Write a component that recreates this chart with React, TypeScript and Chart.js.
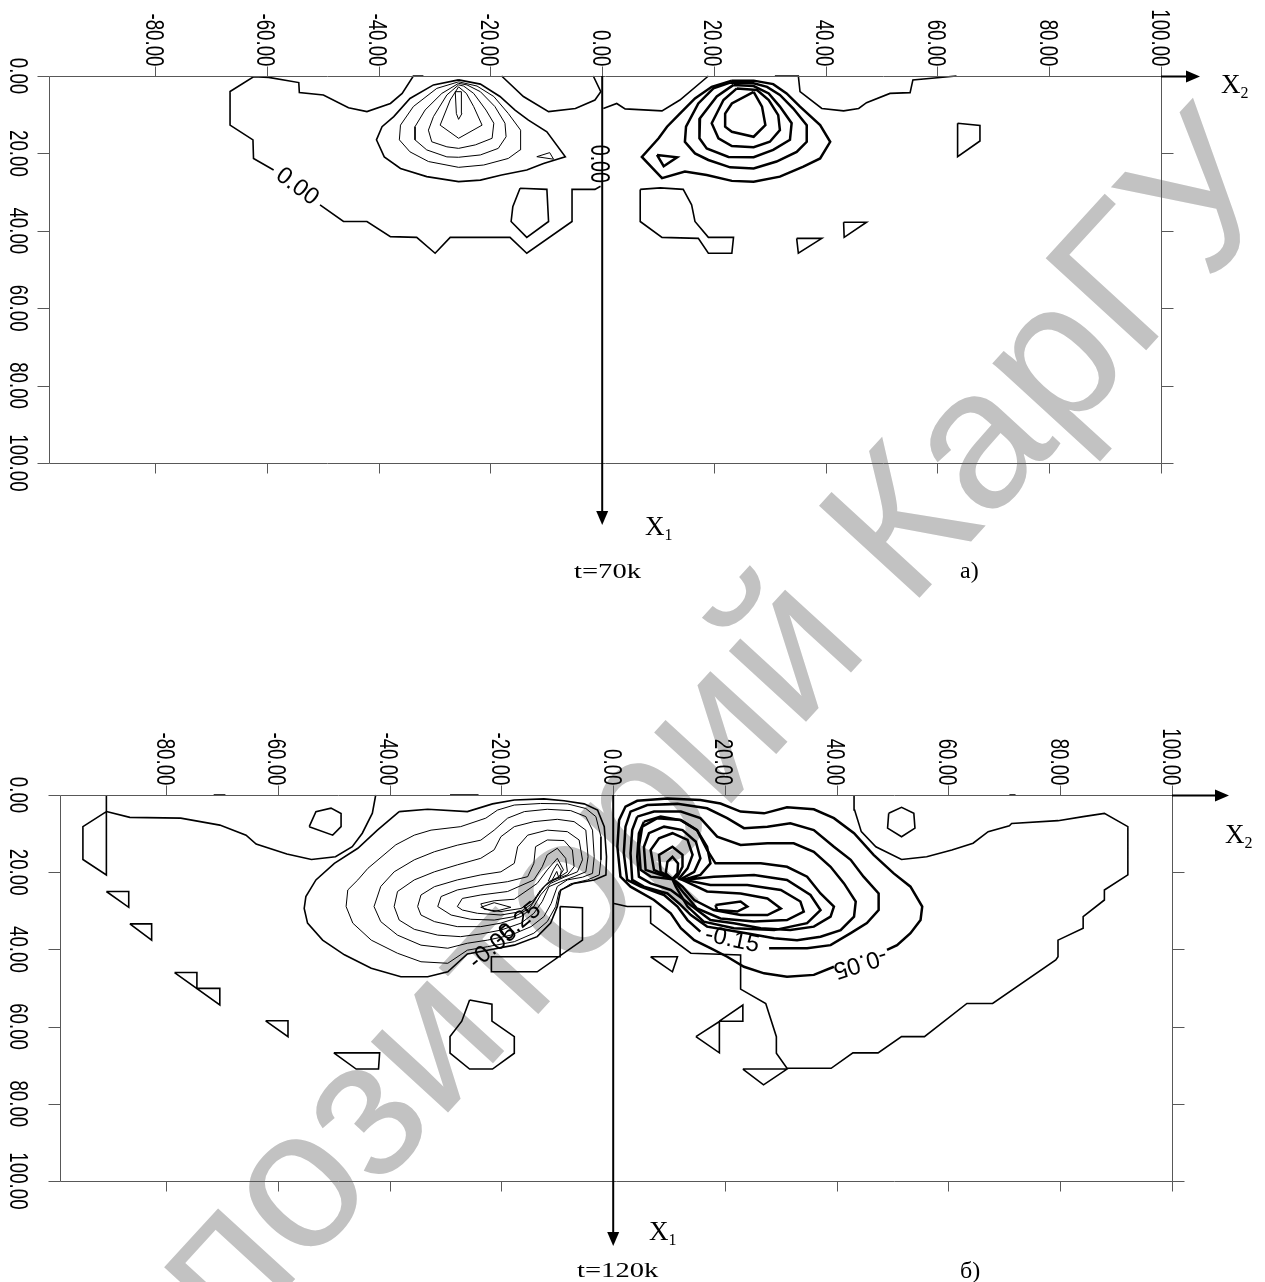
import React, { useEffect, useRef } from "react";
import { Chart, registerables } from "chart.js";
Chart.register(...registerables);

type P = [number, number];

// ---------- axis ticks ----------
const X_TICKS = [-80, -60, -40, -20, 0, 20, 40, 60, 80, 100];
const X_TICK_LABELS = ["-80.00", "-60.00", "-40.00", "-20.00", "0.00", "20.00", "40.00", "60.00", "80.00", "100.00"];
const Y_TICKS = [0, 20, 40, 60, 80, 100];
const Y_TICK_LABELS = ["0.00", "20.00", "40.00", "60.00", "80.00", "100.00"];
const X_MIN = -99, X_MAX = 100, Y_MIN = 0, Y_MAX = 100;

// ---------- panel a (t=70k) contour lines, (X2, X1) ----------
const A_ZERO_1: P[] = [[-32.0,0],[-33.8,0],[-35.8,4.5],[-37.9,7.1],[-42.1,9.2],[-45.4,8.2],[-49.9,4.9],[-54.2,4.3],[-54.3,1.7],[-59.7,0.35],[-62.4,0.2],[-66.6,4],[-66.6,12.7],[-62.5,16.5],[-62.4,21.3],[-58.8,24.3]];
const A_ZERO_2: P[] = [[-50.5,33.3],[-46.3,37.6],[-42.1,37.6],[-37.9,41.5],[-33.2,41.7],[-29.9,45.8],[-27.2,41.7],[-16.5,41.7],[-13.5,45.8],[-5.4,37.6],[-5.4,29.3],[-1.3,29.3],[-0.3,28.5]];
const A_ZERO_3: P[] = [[-18.0,0],[-14.1,5.3],[-9.6,9.2],[-4.8,8.4],[-1.3,6.2],[-0.25,4.05],[-1.6,0]];
const A_ZERO_4: P[] = [[0.2,8.4],[2.6,7.1],[4.1,8.5],[10.7,9.0],[13.9,6.2],[19.0,0]];
const A_ZERO_5: P[] = [[30.9,0],[35.1,0],[35.4,4.05],[39.3,8.4],[43.2,9.0],[45.9,8.4],[47.3,6.9],[51.5,4.5],[55.1,4.3],[55.6,1.0],[63.4,0]];
const A_BLOB_L: P[] = [[-14.7,29.0],[-9.9,29.3],[-9.6,37.6],[-13.5,41.7],[-16.3,37.6],[-16.0,33.8],[-14.7,29.0]];
const A_BLOB_R: P[] = [[6.8,29.3],[10.4,28.9],[14.5,29.3],[16.0,33.3],[16.6,37.6],[19.0,41.7],[23.5,41.7],[23.2,45.8],[19.0,45.8],[17.2,41.95],[10.7,41.7],[6.8,37.6],[6.8,29.3]];
const A_TRI_1: P[] = [[34.8,41.95],[39.3,41.95],[35.1,45.8],[34.8,41.95]];
const A_TRI_2: P[] = [[43.2,37.8],[47.3,37.8],[43.3,41.7],[43.2,37.8]];
const A_QUAD: P[] = [[63.6,12.2],[67.6,12.8],[67.6,16.8],[63.6,20.85],[63.6,12.2]];
const A_L1: P[] = [[-25.7,1.0],[-30.2,2.3],[-34.4,5.8],[-37.3,10.5],[-39.4,13.1],[-40.4,16.5],[-39.0,20.9],[-36.1,23.9],[-31.4,26.0],[-25.7,27.3],[-21.8,26.9],[-18.0,25.6],[-13.5,24.3],[-10.5,22.6],[-6.6,20.9],[-9.9,14.4],[-13.2,11.4],[-15.6,8.8],[-18.3,5.3],[-21.8,2.1],[-25.7,1.0]];
const A_L2: P[] = [[-25.7,1.5],[-29.6,3.2],[-33.8,7.9],[-36.1,12.7],[-36.3,16.5],[-34.4,19.6],[-31.1,22.1],[-25.7,23.6],[-21.2,23.0],[-16.8,21.3],[-14.7,19.1],[-14.6,14.0],[-16.8,9.7],[-19.4,5.3],[-22.4,2.6],[-25.7,1.5]];
const A_L3: P[] = [[-25.7,1.9],[-28.7,4.5],[-31.7,8.8],[-33.5,13.1],[-33.5,16.5],[-31.4,19.1],[-27.8,20.9],[-25.7,21.0],[-21.8,20.4],[-18.6,18.7],[-17.2,15.7],[-17.4,12.2],[-19.2,7.9],[-21.8,4.05],[-24.2,2.3],[-25.7,1.9]];
const A_L4: P[] = [[-25.7,2.3],[-27.8,4.9],[-30.2,10.5],[-31.1,14.0],[-30.5,17.0],[-27.8,18.3],[-25.7,18.7],[-22.7,17.8],[-19.7,16.1],[-19.4,12.2],[-20.8,8.8],[-23.0,4.5],[-24.8,2.6],[-25.7,2.3]];
const A_L5: P[] = [[-25.7,2.8],[-27.2,6.2],[-29.0,12.7],[-25.7,16.1],[-21.5,12.7],[-23.0,7.9],[-24.3,4.5],[-25.7,2.8]];
const A_L6: P[] = [[-26.3,4.05],[-26.1,9.7],[-25.7,11.2],[-25.1,9.7],[-25.2,4.05],[-26.3,4.05]];
const A_L_TRI: P[] = [[-11.7,20.85],[-9.4,19.8],[-8.7,21.5],[-11.7,20.85]];
const A_R1: P[] = [[23.2,1.2],[19.6,2.8],[16.6,5.8],[13.9,9.7],[11.6,13.1],[10.1,16.1],[7.1,20.9],[10.7,26.4],[14.8,24.7],[18.7,25.6],[23.2,27.1],[27.1,27.3],[31.8,26.0],[36.0,23.4],[39.0,21.3],[40.8,17.0],[39.0,12.7],[35.4,7.9],[33.0,4.5],[30.6,2.1],[27.1,1.2],[23.2,1.2]];
const A_R2: P[] = [[22.9,1.7],[19.9,3.2],[17.2,7.1],[15.0,13.1],[14.8,17.0],[16.6,20.0],[19.0,21.7],[22.9,23.6],[27.1,23.9],[31.2,22.1],[34.8,19.6],[36.6,17.0],[36.6,12.7],[34.2,8.4],[31.8,4.9],[29.5,2.8],[27.1,1.9],[22.9,1.7]];
const A_R3: P[] = [[23.5,2.3],[20.5,5.3],[17.5,10.9],[17.4,16.1],[18.7,18.7],[22.6,20.9],[27.1,21.0],[30.6,19.1],[33.6,16.5],[33.9,12.2],[31.8,7.9],[29.8,4.5],[27.1,2.6],[23.5,2.3]];
const A_R4: P[] = [[24.1,3.2],[21.7,6.2],[19.6,12.2],[20.8,16.1],[23.2,18.1],[27.1,18.4],[30.0,17.0],[31.8,14.0],[31.5,10.1],[29.8,6.2],[27.7,3.6],[24.1,3.2]];
const A_R5: P[] = [[27.1,4.1],[23.2,7.1],[22.0,9.7],[22.0,13.1],[23.2,14.4],[27.1,15.7],[29.2,12.7],[28.6,7.9],[27.1,4.1]];
const A_R_LOOP: P[] = [[9.8,20.4],[13.4,21.0],[11.0,23.3],[9.8,20.4]];

// ---------- panel b (t=120k) contour lines, (X2, X1) ----------
const B_EDGE_L: P[] = [[-90.7,0],[-90.7,4.3],[-94.9,8.2],[-94.9,16.7],[-90.7,20.7],[-90.7,4.3]];
const B_LONG_L: P[] = [[-90.7,4.3],[-86.5,5.8],[-77.4,6.0],[-70.4,7.8],[-65.7,10.4],[-63.9,12.7],[-58.4,15.3],[-54.0,16.7],[-49.7,16.0],[-46.7,13.4],[-44.9,9.9],[-43.1,4.7],[-42.5,0]];
const B_HEX_L: P[] = [[-54.4,8.2],[-53.2,4.3],[-50.5,3.4],[-48.7,4.8],[-48.7,8.2],[-50.2,10.4],[-54.4,8.2]];
const B_TRI_1: P[] = [[-90.7,25.0],[-86.7,25.0],[-86.7,29.1],[-90.7,25.0]];
const B_TRI_2: P[] = [[-86.5,33.4],[-82.6,33.4],[-82.6,37.6],[-86.5,33.4]];
const B_TRI_3: P[] = [[-78.5,46.0],[-74.5,46.0],[-74.5,50.1],[-70.4,50.1],[-70.4,54.4],[-78.5,46.0]];
const B_TRI_4: P[] = [[-62.2,58.5],[-58.2,58.5],[-58.2,62.6],[-62.2,58.5]];
const B_TRAP: P[] = [[-50.0,66.8],[-41.8,66.8],[-42.0,71.0],[-46.0,71.0],[-50.0,66.8]];
const B_BLOB: P[] = [[-25.7,53.1],[-21.7,54.2],[-21.7,58.6],[-17.7,62.6],[-17.7,66.9],[-21.6,71.0],[-25.7,71.0],[-29.2,66.9],[-29.2,62.6],[-27.1,58.6],[-25.7,53.1]];
const B_RECT: P[] = [[-9.5,28.9],[-5.5,29.2],[-5.5,37.6],[-13.6,45.8],[-21.8,45.8],[-21.8,41.9],[-9.5,41.9],[-9.5,28.9]];
const B_SEG_1: P[] = [[-71.5,0],[-69.4,0]];
const B_SEG_2: P[] = [[-29.2,0],[-24.1,0]];
const B_SEG_3: P[] = [[70.9,0],[72.0,0]];
const B_LB1: P[] = [[-38.3,4.3],[-33.2,3.7],[-26.1,4.3],[-21.6,2.3],[-17.7,1.3],[-12.4,1.0],[-8.8,1.5],[-5.2,2.3],[-2.8,3.9],[-1.6,8.2],[-1.2,16.0],[-1.3,20.7],[-3.4,22.0],[-7.0,22.9],[-9.4,24.6],[-10.0,28.9],[-11.2,33.2],[-13.6,36.7],[-17.7,38.9],[-22.5,40.2],[-26.1,41.2],[-29.6,45.8],[-33.2,47.1],[-38.0,47.1],[-43.3,44.9],[-48.1,41.4],[-52.0,37.6],[-54.7,33.2],[-55.3,29.4],[-55.0,26.3],[-53.2,22.0],[-49.9,17.7],[-45.7,13.8],[-42.2,9.1],[-38.3,4.3]];
const B_LB2: P[] = [[-45.7,22.0],[-43.9,19.0],[-38.9,12.9],[-35.6,10.4],[-32.6,9.1],[-27.3,8.2],[-22.8,6.0],[-20.7,3.9],[-17.7,2.6],[-13.0,2.2],[-8.2,2.3],[-4.9,3.5],[-3.1,5.6],[-2.2,10.8],[-2.2,16.8],[-2.5,20.7],[-4.6,22.0],[-7.6,23.0],[-9.7,25.0],[-10.3,28.9],[-11.8,32.8],[-14.2,35.8],[-17.7,38.0],[-22.5,39.3],[-26.1,40.2],[-29.6,43.6],[-34.4,43.2],[-38.6,41.0],[-43.3,37.6],[-46.6,33.2],[-47.8,28.9],[-47.5,24.6],[-45.7,22.0]];
const B_LB3: P[] = [[-42.8,28.9],[-41.6,23.7],[-39.2,19.9],[-35.6,16.8],[-32.0,14.7],[-27.9,13.0],[-23.7,11.7],[-21.3,9.1],[-18.9,6.0],[-15.9,4.3],[-11.8,3.7],[-7.6,4.05],[-4.9,5.6],[-3.7,9.1],[-3.4,16.0],[-3.7,20.3],[-5.5,21.3],[-8.2,22.0],[-10.0,23.7],[-11.1,28.1],[-12.4,31.5],[-14.7,34.1],[-18.3,36.3],[-22.5,37.6],[-26.1,38.4],[-29.6,39.7],[-34.4,38.9],[-38.6,36.3],[-41.6,32.8],[-42.8,28.9]];
const B_K4: P[] = [[-39.2,28.9],[-38.6,25.0],[-35.6,22.0],[-32.0,19.9],[-27.9,18.1],[-23.7,16.4],[-21.3,14.2],[-20.1,10.8],[-17.7,8.2],[-14.2,6.9],[-10.0,6.3],[-7.0,6.9],[-4.9,9.1],[-4.5,16.0],[-4.9,19.9],[-7.0,21.15],[-9.4,22.45],[-11.5,23.75],[-12.7,27.6],[-14.2,30.65],[-16.5,33.2],[-20.1,35.0],[-23.7,36.0],[-27.3,36.7],[-31.4,36.3],[-35.6,34.8],[-38.3,32.4],[-39.2,28.9]];
const B_K5: P[] = [[-35.0,28.9],[-34.4,25.9],[-32.0,23.75],[-27.9,22.0],[-23.7,20.7],[-20.1,19.9],[-17.7,17.7],[-17.1,13.4],[-15.3,10.4],[-11.8,9.1],[-8.2,9.5],[-6.1,11.65],[-5.5,16.8],[-6.4,19.9],[-8.8,21.3],[-11.2,22.9],[-13.0,25.9],[-14.2,28.9],[-16.5,31.5],[-20.1,33.2],[-23.7,34.1],[-27.9,34.1],[-32.0,32.8],[-34.4,31.1],[-35.0,28.9]];
const B_K6: P[] = [[-31.4,28.9],[-30.8,26.3],[-27.9,24.6],[-23.1,23.3],[-18.9,22.45],[-15.3,21.15],[-14.2,17.7],[-13.9,13.4],[-11.8,11.65],[-8.8,11.8],[-7.3,14.25],[-7.0,18.6],[-8.2,20.7],[-10.6,22.0],[-12.4,23.75],[-13.6,26.3],[-15.0,29.4],[-17.7,31.5],[-21.3,32.4],[-25.5,32.2],[-29.0,31.1],[-31.4,28.9]];
const B_K7: P[] = [[-27.9,28.9],[-27.0,26.8],[-23.7,25.9],[-18.9,25.0],[-14.2,22.0],[-12.7,18.6],[-11.8,15.5],[-10.0,13.8],[-8.5,16.4],[-8.2,19.9],[-10.0,21.6],[-11.8,22.9],[-13.0,25.0],[-14.5,28.1],[-16.5,30.2],[-20.1,31.1],[-24.3,30.65],[-27.0,29.8],[-27.9,28.9]];
const B_K8: P[] = [[-23.7,28.2],[-21.3,27.4],[-17.7,27.0],[-13.6,22.9],[-11.8,19.4],[-10.0,16.4],[-8.9,19.4],[-9.7,21.15],[-11.5,22.45],[-13.0,24.6],[-14.2,27.2],[-16.5,29.4],[-20.1,30.2],[-23.1,29.6],[-23.7,28.2]];
const B_K9: P[] = [[-11.6,22.3],[-10.7,19.4],[-10.0,17.8],[-9.3,19.5],[-9.5,21.7]];
const B_K10: P[] = [[-11.0,22.2],[-10.1,19.8],[-9.7,21.6]];
const B_DIAMOND: P[] = [[-23.7,29.1],[-21.3,27.9],[-18.3,29.1],[-21.3,30.2],[-23.7,29.1]];
const B_RB1: P[] = [[49.0,40.15],[50.8,38.9],[53.2,35.8],[55.0,32.4],[55.3,28.9],[53.2,23.75],[50.2,20.3],[46.6,15.5],[43.1,9.9],[39.5,6.0],[35.9,3.7],[31.1,3.2],[27.0,4.75],[22.8,4.3],[19.2,2.2],[15.6,1.3],[9.7,0.9],[4.3,1.5],[2.2,3.0],[1.05,6.5],[0.75,13.4],[1.3,21.15],[3.1,23.75],[7.3,27.2],[10.3,30.65],[12.1,34.5],[14.5,37.6],[17.4,39.7],[20.4,41.9],[23.4,44.5],[27.0,46.2],[31.1,47.1],[35.9,46.6],[39.5,44.5]];
const B_RB2: P[] = [[27.9,39.7],[31.1,39.7],[34.7,39.7],[38.9,38.9],[42.5,35.8],[45.4,33.2],[47.5,29.8],[47.5,25.5],[44.8,21.15],[42.5,16.8],[39.5,13.4],[35.9,9.1],[31.7,7.3],[27.6,8.2],[23.4,8.6],[20.4,6.0],[16.8,3.45],[11.5,2.3],[6.1,2.6],[3.1,4.3],[2.2,8.2],[1.9,15.1],[2.5,22.0],[4.9,23.75],[9.1,25.9],[11.5,28.9],[13.3,32.4],[15.6,35.4]];
const B_RB3: P[] = [[4.3,5.6],[7.3,4.3],[12.1,4.3],[15.6,6.0],[18.6,10.8],[22.8,12.95],[27.6,12.5],[32.3,12.5],[35.9,14.7],[38.9,18.6],[41.3,22.9],[43.4,27.6],[43.1,31.5],[40.7,35.0],[37.1,36.7],[32.9,37.6],[28.8,37.1],[24.6,36.0],[20.4,35.0],[16.8,34.1],[13.9,31.1],[11.8,28.1],[9.7,25.5],[5.5,23.75],[3.4,22.0],[3.1,15.1],[3.4,9.1],[4.3,5.6]];
const B_RB4: P[] = [[5.5,6.9],[8.5,5.6],[12.1,6.5],[15.0,9.1],[16.8,14.25],[18.3,17.7],[21.6,17.7],[26.4,17.7],[31.1,18.6],[34.7,21.15],[37.1,25.5],[39.5,28.9],[38.9,31.5],[35.9,34.1],[31.7,35.0],[26.4,34.5],[21.6,33.2],[17.4,32.4],[15.0,29.8],[12.7,27.2],[10.3,24.6],[6.7,22.9],[4.6,21.15],[4.3,16.0],[4.6,9.9],[5.5,6.9]];
// figure-eight levels through the saddle near (10.6, 21.8)
const B_RF5: P[] = [[10.6,21.8],[6.7,21.15],[4.9,19.4],[4.6,13.4],[5.2,8.2],[7.9,6.0],[12.1,6.5],[15.0,9.1],[16.8,13.4],[17.4,17.7],[15.6,20.7],[12.4,22.0],[18.0,21.15],[25.2,20.7],[31.1,22.0],[35.3,25.9],[37.1,29.8],[34.7,33.2],[28.8,35.0],[21.6,34.5],[16.2,32.8],[13.3,28.9],[11.2,23.75],[10.6,21.8]];
const B_RF6: P[] = [[10.6,21.7],[5.8,19.4],[5.5,13.4],[6.4,9.9],[9.1,8.2],[12.4,9.1],[14.8,12.1],[15.6,16.4],[14.5,19.9],[12.1,21.8],[17.4,23.3],[24.0,23.3],[30.0,24.6],[33.5,27.6],[34.1,30.2],[31.1,32.4],[25.2,32.8],[19.2,32.0],[15.0,29.4],[12.7,25.5],[10.6,21.7]];
const B_RF7: P[] = [[10.6,21.7],[7.3,19.4],[6.7,14.25],[8.2,11.2],[10.6,9.9],[13.3,11.65],[14.2,15.5],[13.3,19.0],[11.8,21.6],[16.8,25.0],[22.8,25.5],[27.6,26.8],[30.0,29.4],[27.6,31.1],[22.8,31.1],[18.0,29.8],[14.5,27.2],[12.4,23.75],[10.6,21.7]];
const B_RF8: P[] = [[10.6,21.8],[8.5,19.9],[8.2,15.5],[10.6,13.4],[12.4,15.5],[12.4,18.6],[11.5,21.15],[10.6,21.8]];
const B_RF9: P[] = [[10.6,21.8],[9.4,20.3],[9.7,17.3],[10.6,16.0],[11.6,17.7],[11.5,20.3],[10.6,21.8]];
const B_RB8: P[] = [[18.3,28.5],[22.8,27.6],[24.0,28.9],[22.2,30.2],[18.6,29.8],[18.3,28.5]];
const B_BIG_R: P[] = [[0.15,28.1],[2.5,28.9],[6.7,28.9],[6.7,33.2],[13.9,41.0],[22.8,41.45],[22.8,50.3],[27.3,54.0],[29.2,62.6],[29.2,66.9],[31.1,70.8],[39.0,70.8],[42.9,66.8],[47.4,66.8],[51.6,62.6],[55.7,62.6],[63.3,54.0],[67.9,54.0],[79.2,42.75],[79.6,41.9],[79.6,37.6],[84.1,34.5],[84.1,31.5],[87.9,27.2],[87.9,24.6],[92.1,20.7],[92.1,8.2],[87.9,4.75],[84.1,5.6],[79.6,6.65],[71.3,7.4],[70.9,8.0],[67.1,9.5],[64.4,12.5],[60.6,14.25],[56.1,16.0],[51.6,16.7],[47.0,13.4],[44.4,9.5],[43.2,3.9],[43.1,0]];
const B_HEX_R: P[] = [[49.3,4.75],[51.6,3.2],[53.8,4.75],[54.0,8.6],[51.6,10.8],[49.1,8.6],[49.3,4.75]];
const B_TRI_R1: P[] = [[6.7,41.9],[11.5,41.9],[10.6,45.8],[6.7,41.9]];
const B_TRI_R2: P[] = [[19.0,58.6],[23.2,54.4],[23.2,58.6],[19.0,58.6]];
const B_TRI_R3: P[] = [[14.8,62.6],[19.0,58.7],[19.0,66.8],[14.8,62.6]];
const B_TRI_R4: P[] = [[23.2,71.0],[31.1,71.0],[26.9,75.1],[23.2,71.0]];

// ---------- contour labels (text, X2, X1, angle) ----------
const A_LABEL_TEXT = ["0.00", "0.00"];
const A_LABEL_POS: P[] = [[-54.6, 28.6], [-0.7, 22.7]];
const A_LABEL_ANGLE = [36.9, 90];
const B_LABEL_TEXT = ["-0.05", "-0.15", "-0.25", "-0.05"];
const B_LABEL_POS: P[] = [[44.2, 43.4], [21.3, 37.6], [-17.2, 33.5], [-21.5, 39.4]];
const B_LABEL_ANGLE = [162.6, 12, -40, -40];

const SANS = "'Liberation Sans', Arial, sans-serif";
const SERIF = "'Liberation Serif', 'Times New Roman', serif";
const BOLD = 2.5, THIN = 1, MID = 1.6;

type Line = { pts: P[]; w: number };
type PanelCfg = {
  lines: Line[];
  labels: { text: string[]; pos: P[]; ang: number[] };
  pad: { left: number; top: number; right: number; bottom: number };
  x1ArrowTip: number;
  x2ArrowTip: number;
  x1Label: [number, number];
  x2Label: [number, number];
  tLabel: string;
  tPos: [number, number];
  letter: string;
  letterPos: [number, number];
};

const PANEL_A: PanelCfg = {
  lines: [
    ...[A_ZERO_1, A_ZERO_2, A_ZERO_3, A_ZERO_4, A_ZERO_5, A_BLOB_L, A_BLOB_R, A_TRI_1, A_TRI_2, A_QUAD].map((pts) => ({ pts, w: MID })),
    { pts: A_L1, w: MID },
    ...[A_L2, A_L3, A_L4, A_L5, A_L6, A_L_TRI].map((pts) => ({ pts, w: THIN })),
    ...[A_R1, A_R2, A_R3, A_R4, A_R5, A_R_LOOP].map((pts) => ({ pts, w: BOLD })),
  ],
  labels: { text: A_LABEL_TEXT, pos: A_LABEL_POS, ang: A_LABEL_ANGLE },
  pad: { left: 49, top: 76, right: 1265 - 1161, bottom: 1282 - 463 },
  x1ArrowTip: 525,
  x2ArrowTip: 1200,
  x1Label: [645, 535],
  x2Label: [1221, 93],
  tLabel: "t=70k",
  tPos: [574, 578],
  letter: "a)",
  letterPos: [960, 578],
};

const PANEL_B: PanelCfg = {
  lines: [
    ...[B_EDGE_L, B_LONG_L, B_HEX_L, B_TRI_1, B_TRI_2, B_TRI_3, B_TRI_4, B_TRAP, B_BLOB, B_RECT, B_SEG_1, B_SEG_2, B_SEG_3, B_BIG_R, B_HEX_R, B_TRI_R1, B_TRI_R2, B_TRI_R3, B_TRI_R4].map((pts) => ({ pts, w: MID })),
    { pts: B_LB1, w: MID },
    ...[B_LB2, B_LB3, B_K4, B_K5, B_K6, B_K7, B_K8, B_K9, B_K10, B_DIAMOND].map((pts) => ({ pts, w: THIN })),
    ...[B_RB1, B_RB2, B_RB3, B_RB4, B_RF5, B_RF6, B_RF7, B_RF8, B_RF9, B_RB8].map((pts) => ({ pts, w: BOLD })),
  ],
  labels: { text: B_LABEL_TEXT, pos: B_LABEL_POS, ang: B_LABEL_ANGLE },
  pad: { left: 60, top: 795, right: 1265 - 1172, bottom: 1282 - 1181 },
  x1ArrowTip: 1246,
  x2ArrowTip: 1229,
  x1Label: [649, 1240],
  x2Label: [1225, 843],
  tLabel: "t=120k",
  tPos: [577, 1277],
  letter: "б)",
  letterPos: [960, 1278],
};

function drawSub(ctx: CanvasRenderingContext2D, x: number, y: number, main: string, sub: string, size: number) {
  ctx.textAlign = "left";
  ctx.textBaseline = "alphabetic";
  ctx.font = `${size}px ${SERIF}`;
  ctx.fillText(main, x, y);
  const w = ctx.measureText(main).width;
  ctx.font = `${Math.round(size * 0.6)}px ${SERIF}`;
  ctx.fillText(sub, x + w, y + size * 0.2);
}

function makeDecor(cfg: PanelCfg) {
  return {
    id: "decor",
    afterDatasetsDraw(chart: any) {
      const ctx: CanvasRenderingContext2D = chart.ctx;
      const ca = chart.chartArea;
      const xs = chart.scales.x;
      const ys = chart.scales.y;
      const L = Math.round(ca.left) + 0.5, R = Math.round(ca.right) + 0.5;
      const T = Math.round(ca.top) + 0.5, B = Math.round(ca.bottom) + 0.5;
      ctx.save();
      // frame and ticks
      ctx.strokeStyle = "#585858";
      ctx.lineWidth = 1;
      ctx.beginPath();
      ctx.moveTo(L, T); ctx.lineTo(R, T); ctx.lineTo(R, B); ctx.lineTo(L, B); ctx.closePath();
      X_TICKS.forEach((v) => {
        const px = Math.round(xs.getPixelForValue(v)) + 0.5;
        ctx.moveTo(px, T); ctx.lineTo(px, T - 10);
        ctx.moveTo(px, B); ctx.lineTo(px, B + 10);
      });
      Y_TICKS.forEach((v) => {
        const py = Math.round(ys.getPixelForValue(v)) + 0.5;
        ctx.moveTo(L, py); ctx.lineTo(L - 12, py);
        ctx.moveTo(R, py); ctx.lineTo(R + 12, py);
      });
      ctx.stroke();
      // tick labels (rotated, condensed)
      ctx.fillStyle = "#000";
      ctx.font = `26px ${SANS}`;
      ctx.textBaseline = "alphabetic";
      X_TICKS.forEach((v, i) => {
        const px = xs.getPixelForValue(v);
        ctx.save();
        ctx.translate(px, T - 10);
        ctx.rotate(Math.PI / 2);
        ctx.scale(0.72, 1);
        ctx.textAlign = "right";
        ctx.fillText(X_TICK_LABELS[i], 0, 9.5);
        ctx.restore();
      });
      Y_TICKS.forEach((v, i) => {
        const py = ys.getPixelForValue(v);
        ctx.save();
        ctx.translate(10, py);
        ctx.rotate(Math.PI / 2);
        ctx.scale(0.72, 1);
        ctx.textAlign = "center";
        ctx.fillText(Y_TICK_LABELS[i], 0, 0);
        ctx.restore();
      });
      // X1 axis with arrow
      const x0 = xs.getPixelForValue(0);
      ctx.strokeStyle = "#000";
      ctx.lineWidth = 2;
      ctx.beginPath();
      ctx.moveTo(x0, ca.top); ctx.lineTo(x0, cfg.x1ArrowTip - 10);
      ctx.stroke();
      ctx.beginPath();
      ctx.moveTo(x0 - 6, cfg.x1ArrowTip - 14); ctx.lineTo(x0 + 6, cfg.x1ArrowTip - 14); ctx.lineTo(x0, cfg.x1ArrowTip); ctx.closePath();
      ctx.fill();
      // X2 arrow
      ctx.beginPath();
      ctx.moveTo(ca.right, T); ctx.lineTo(cfg.x2ArrowTip - 8, T);
      ctx.stroke();
      ctx.beginPath();
      ctx.moveTo(cfg.x2ArrowTip - 14, T - 6); ctx.lineTo(cfg.x2ArrowTip - 14, T + 6); ctx.lineTo(cfg.x2ArrowTip, T); ctx.closePath();
      ctx.fill();
      // contour labels
      cfg.labels.text.forEach((t, i) => {
        const [lx, ly] = cfg.labels.pos[i];
        const ang = cfg.labels.ang[i];
        ctx.save();
        ctx.translate(xs.getPixelForValue(lx), ys.getPixelForValue(ly));
        ctx.rotate((ang * Math.PI) / 180);
        ctx.textAlign = "center";
        ctx.textBaseline = "middle";
        if (Math.abs(ang) === 90) {
          ctx.font = `28px ${SANS}`;
          ctx.scale(0.7, 1);
        } else {
          ctx.font = `24px ${SANS}`;
        }
        ctx.fillText(t, 0, 0);
        ctx.restore();
      });
      // annotations
      drawSub(ctx, cfg.x1Label[0], cfg.x1Label[1], "X", "1", 27);
      drawSub(ctx, cfg.x2Label[0], cfg.x2Label[1], "X", "2", 27);
      ctx.font = `22px ${SERIF}`;
      ctx.textAlign = "left";
      ctx.textBaseline = "alphabetic";
      ctx.save();
      ctx.translate(cfg.tPos[0], cfg.tPos[1]);
      ctx.scale(1.3, 1);
      ctx.fillText(cfg.tLabel, 0, 0);
      ctx.restore();
      ctx.font = `24px ${SERIF}`;
      ctx.fillText(cfg.letter, cfg.letterPos[0], cfg.letterPos[1]);
      ctx.restore();
    },
  };
}

function Panel({ cfg }: { cfg: PanelCfg }) {
  const ref = useRef<HTMLCanvasElement | null>(null);
  useEffect(() => {
    if (!ref.current) return;
    const chart = new Chart(ref.current, {
      type: "scatter",
      data: {
        datasets: cfg.lines.map((l) => ({
          data: l.pts.map(([x, y]) => ({ x, y })),
          showLine: true,
          borderColor: "#000",
          backgroundColor: "#000",
          borderWidth: l.w,
          pointRadius: 0,
          pointHoverRadius: 0,
          tension: 0,
          fill: false,
          clip: false as any,
        })),
      },
      options: {
        animation: false,
        responsive: false,
        maintainAspectRatio: false,
        events: [],
        layout: { padding: cfg.pad },
        plugins: { legend: { display: false }, tooltip: { enabled: false } },
        scales: {
          x: { type: "linear", min: X_MIN, max: X_MAX, display: false },
          y: { type: "linear", min: Y_MIN, max: Y_MAX, reverse: true, display: false },
        },
      },
      plugins: [makeDecor(cfg)],
    } as any);
    return () => chart.destroy();
  }, [cfg]);
  return (
    <canvas
      ref={ref}
      width={1265}
      height={1282}
      style={{ position: "absolute", left: 0, top: 0, width: 1265, height: 1282 }}
    />
  );
}

function Watermark() {
  const ref = useRef<HTMLCanvasElement | null>(null);
  useEffect(() => {
    const c = ref.current;
    if (!c) return;
    const ctx = c.getContext("2d")!;
    ctx.clearRect(0, 0, c.width, c.height);
    ctx.save();
    ctx.translate(232, 1348);
    ctx.rotate((-47.5 * Math.PI) / 180);
    ctx.font = `198px ${SANS}`;
    ctx.fillStyle = "#c2c2c2";
    ctx.textBaseline = "alphabetic";
    ctx.fillText("позиторий КарГУ", 0, 0);
    ctx.restore();
  }, []);
  return (
    <canvas
      ref={ref}
      width={1265}
      height={1282}
      style={{ position: "absolute", left: 0, top: 0, width: 1265, height: 1282 }}
    />
  );
}

export default function App() {
  return (
    <div style={{ position: "absolute", left: 0, top: 0, width: 1265, height: 1282, overflow: "hidden", background: "#fff" }}>
      <Watermark />
      <Panel cfg={PANEL_A} />
      <Panel cfg={PANEL_B} />
    </div>
  );
}
